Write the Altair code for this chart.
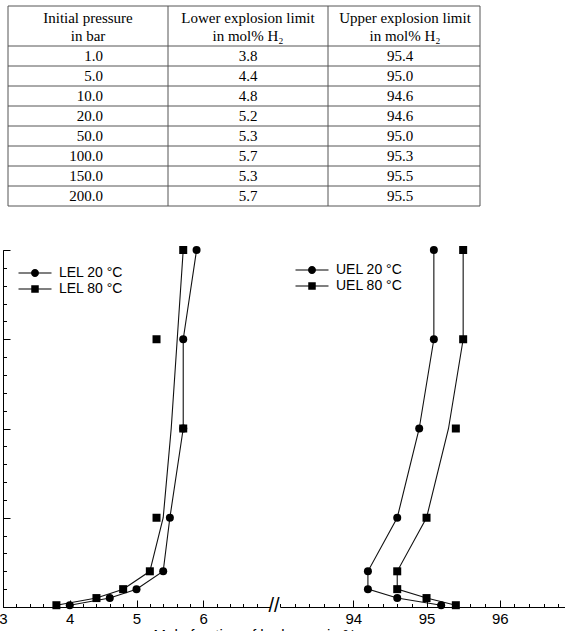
import altair as alt
import pandas as pd

# ---------------- data ----------------
pressure_bar = [1, 5, 10, 20, 50, 100, 150, 200]

# measured points (markers)
lel_20 = [4.0, 4.6, 5.0, 5.4, 5.5, 5.7, 5.7, 5.9]
lel_80 = [3.8, 4.4, 4.8, 5.2, 5.3, 5.7, 5.3, 5.7]
uel_20 = [95.2, 94.6, 94.2, 94.2, 94.6, 94.9, 95.1, 95.1]
uel_80 = [95.4, 95.0, 94.6, 94.6, 95.0, 95.4, 95.5, 95.5]

# drawn curves
lel_20_curve = [4.0, 4.6, 5.0, 5.4, 5.5, 5.7, 5.7, 5.9]
lel_80_curve = [3.8, 4.4, 4.8, 5.2, 5.4, 5.52, 5.61, 5.7]
uel_20_curve = [95.2, 94.6, 94.2, 94.2, 94.6, 94.9, 95.1, 95.1]
uel_80_curve = [95.4, 95.0, 94.6, 94.6, 95.0, 95.3, 95.5, 95.5]

series_lel = ["LEL 20 °C", "LEL 80 °C"]
series_uel = ["UEL 20 °C", "UEL 80 °C"]

left_tick_labels = [3, 4, 5, 6]
right_tick_labels = [94, 95, 96]

# table
table_header_1 = ["Initial pressure", "Lower explosion limit", "Upper explosion limit"]
table_header_2 = ["in bar", "in mol% H\u2082", "in mol% H\u2082"]
table_pressure = ["1.0", "5.0", "10.0", "20.0", "50.0", "100.0", "150.0", "200.0"]
table_lel = ["3.8", "4.4", "4.8", "5.2", "5.3", "5.7", "5.3", "5.7"]
table_uel = ["95.4", "95.0", "94.6", "94.6", "95.0", "95.3", "95.5", "95.5"]

# ---------------- layout ----------------
H = 357
WL = 267
WR = 285
SANS = "Liberation Sans"
SERIF = "Liberation Serif"

# table layout (table units = pixels across the table)
COL_EDGES = [0, 160, 320, 472]
HEADER_X = [80, 240, 397]
PRESSURE_RIGHT_X = 95
VALUE_X = [240, 392]

PATH_CIRCLE = "M-3.3,-0.1H3.3V0.1H-3.3Z M0.8,0A0.8,0.8,0,1,1,-0.8,0A0.8,0.8,0,1,1,0.8,0Z"
PATH_SQUARE = "M-3.3,-0.1H3.3V0.1H-3.3Z M-0.75,-0.75H0.75V0.75H-0.75Z"


def long_df(names, value_lists):
    rows = []
    for name, vals in zip(names, value_lists):
        for p, v in zip(pressure_bar, vals):
            rows.append({"series": name, "x": v, "p": p})
    return pd.DataFrame(rows)


def panel(names, marker_vals, curve_vals, domain, width, labels, major, minor,
          legend_x, legend_y, show_y, break_mark):
    markers = long_df(names, marker_vals)
    curves = long_df(names, curve_vals)
    xs = alt.Scale(domain=domain, nice=False, zero=False)
    ys = alt.Scale(domain=[0, 200], nice=False, zero=False)

    x_bottom = alt.Axis(orient="bottom", values=labels, format="d", ticks=False,
                        labelPadding=4, labelFontSize=15, labelFont=SANS,
                        labelColor="black", domainColor="black", title=None,
                        grid=False, labelFlush=False)
    x_minor = alt.Axis(orient="top", offset=-H, values=minor, labels=False,
                       domain=False, tickSize=3.5, tickColor="black",
                       title=None, grid=False)
    x_major = alt.Axis(orient="top", offset=-H, values=major, labels=False,
                       domain=False, tickSize=7, tickColor="black",
                       title=None, grid=False)
    y_minor = alt.Axis(orient="right", offset=-width, values=list(range(0, 201, 10)),
                       labels=False, tickSize=3.5, tickColor="black",
                       domainColor="black", title=None, grid=False)
    y_major = alt.Axis(orient="right", offset=-width, values=[0, 50, 100, 150, 200],
                       labels=False, domain=False, tickSize=7, tickColor="black",
                       title=None, grid=False)

    lines = alt.Chart(curves).mark_line(color="#111", strokeWidth=1.1).encode(
        x=alt.X("x:Q", scale=xs, axis=x_bottom),
        y=alt.Y("p:Q", scale=ys, axis=y_minor if show_y else None),
        detail="series:N",
        order="p:Q",
    )
    pts = alt.Chart(markers).mark_point(filled=True, color="black", opacity=1, size=64).encode(
        x=alt.X("x:Q", scale=xs, axis=x_minor),
        y=alt.Y("p:Q", scale=ys, axis=y_major if show_y else None),
        shape=alt.Shape("series:N", scale=alt.Scale(domain=names, range=["circle", "square"]),
                        legend=None),
    )
    leg = alt.Chart(markers).mark_point(filled=True, color="black", opacity=0).encode(
        x=alt.X("x:Q", scale=xs, axis=x_major),
        y=alt.Y("p:Q", scale=ys, axis=None),
        shape=alt.Shape(
            "series:N",
            scale=alt.Scale(domain=names, range=[PATH_CIRCLE, PATH_SQUARE]),
            legend=alt.Legend(title=None, orient="none", legendX=legend_x, legendY=legend_y,
                              symbolSize=100, symbolFillColor="black", symbolStrokeWidth=0,
                              symbolOpacity=1, labelFont=SANS, labelFontSize=14,
                              labelColor="black", labelOffset=17, rowPadding=2, padding=0),
        ),
    )
    layers = [lines, pts, leg]
    if break_mark:
        brk = alt.Chart(pd.DataFrame({"t": ["//"]})).mark_text(
            font=SANS, fontSize=20, align="center", baseline="middle", dx=4, dy=-1,
            color="black",
        ).encode(
            x=alt.X(datum=domain[1], scale=xs, axis=None),
            y=alt.Y(datum=0, scale=ys, axis=None),
            text="t:N",
        )
        layers.append(brk)
    return alt.layer(*layers).resolve_axis(x="independent", y="independent").resolve_scale(
        shape="independent").properties(width=width, height=H)


left_minor = [round(3 + 0.2 * i, 1) for i in range(1, 20)]
right_minor = [round(93 + 0.2 * i, 1) for i in range(0, 20)]

left = panel(series_lel, [lel_20, lel_80], [lel_20_curve, lel_80_curve], [3, 7], WL,
             left_tick_labels, [3, 4, 5, 6], left_minor, 25, 16, True, True)
right = panel(series_uel, [uel_20, uel_80], [uel_20_curve, uel_80_curve], [93, 96.89], WR,
              right_tick_labels, [94, 95, 96], right_minor, 25, 13, False, False)

plot = alt.hconcat(left, right, spacing=10, bounds="flush").resolve_scale(
    shape="independent").properties(
    title=alt.TitleParams("Mole fraction of hydrogen in %", orient="bottom", anchor="middle",
                          font=SANS, fontSize=15, fontWeight="normal", color="black",
                          dx=-27, offset=2)
)

# ---------------- table ----------------
tx = alt.Scale(domain=[0, 472], range=[5, 477])
ty = alt.Scale(domain=[0, 10], range=[6, 206])

hdr = pd.DataFrame({
    "c": HEADER_X * 2,
    "r": [0.6] * 3 + [1.5] * 3,
    "t": table_header_1 + table_header_2,
})
body_rows = [2.5 + i for i in range(len(table_pressure))]
body_c = pd.DataFrame({
    "c": [VALUE_X[0]] * len(table_lel) + [VALUE_X[1]] * len(table_uel),
    "r": body_rows * 2,
    "t": table_lel + table_uel,
})
body_p = pd.DataFrame({"c": [PRESSURE_RIGHT_X] * len(table_pressure), "r": body_rows,
                       "t": table_pressure})

hl = pd.DataFrame({"y": [0, 2] + [3 + i for i in range(len(table_pressure))],
                   "x0": COL_EDGES[0], "x1": COL_EDGES[-1]})
vl = pd.DataFrame({"x": COL_EDGES, "y0": 0, "y1": 10})

t_h = alt.Chart(hl).mark_rule(color="#555", strokeWidth=1).encode(
    x=alt.X("x0:Q", scale=tx, axis=None), x2="x1:Q",
    y=alt.Y("y:Q", scale=ty, axis=None))
t_v = alt.Chart(vl).mark_rule(color="#555", strokeWidth=1).encode(
    x=alt.X("x:Q", scale=tx, axis=None),
    y=alt.Y("y0:Q", scale=ty, axis=None), y2="y1:Q")
t_hdr = alt.Chart(hdr).mark_text(font=SERIF, fontSize=15, align="center", baseline="middle",
                                 color="black").encode(
    x=alt.X("c:Q", scale=tx, axis=None), y=alt.Y("r:Q", scale=ty, axis=None), text="t:N")
t_bc = alt.Chart(body_c).mark_text(font=SERIF, fontSize=15, align="center", baseline="middle",
                                   color="black").encode(
    x=alt.X("c:Q", scale=tx, axis=None), y=alt.Y("r:Q", scale=ty, axis=None), text="t:N")
t_bp = alt.Chart(body_p).mark_text(font=SERIF, fontSize=15, align="right", baseline="middle",
                                   color="black").encode(
    x=alt.X("c:Q", scale=tx, axis=None), y=alt.Y("r:Q", scale=ty, axis=None), text="t:N")

table = alt.layer(t_h, t_v, t_hdr, t_bc, t_bp).properties(width=562, height=210)

chart = alt.vconcat(table, plot, spacing=36).properties(
    padding={"left": -2, "top": 0, "right": 0, "bottom": 0},
    background="white",
).configure_view(stroke=None).configure_axis(grid=False)

chart.save("out.html", embed_options={"renderer": "svg", "actions": False})
